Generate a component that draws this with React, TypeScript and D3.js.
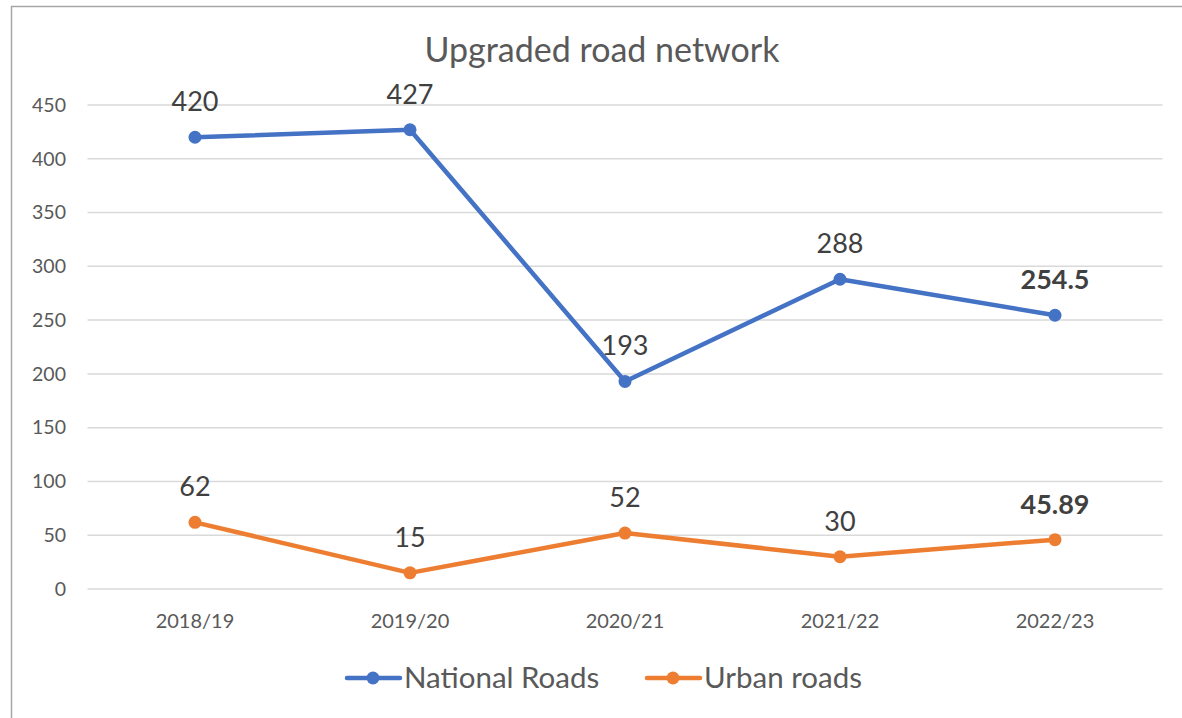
import React, { useEffect, useRef } from 'react';
import * as d3 from 'd3';

const years = ['2018/19', '2019/20', '2020/21', '2021/22', '2022/23'];
const nationalRoads = [420, 427, 193, 288, 254.5];
const urbanRoads = [62, 15, 52, 30, 45.89];
const yTicks = [0, 50, 100, 150, 200, 250, 300, 350, 400, 450];

const W = 1182;
const H = 718;
const FONT = 'Lato, "Open Sans", sans-serif';

const App = () => {
  const svgRef = useRef<SVGSVGElement>(null);

  useEffect(() => {
    const svg = d3.select(svgRef.current);
    svg.selectAll('*').remove();

    const margin = { left: 87.5, right: 1162.5, top: 105, bottom: 589 };

    const x = d3.scaleBand<string>().domain(years).range([margin.left, margin.right]);
    const y = d3.scaleLinear().domain([0, 450]).range([margin.bottom, margin.top]);
    const cx = (d: string) => (x(d) as number) + x.bandwidth() / 2;

    // frame
    svg.append('path')
      .attr('d', `M11.5,${H} V6.5 H${W}`)
      .attr('fill', 'none')
      .attr('stroke', '#a6a6a6')
      .attr('stroke-width', 1.5);

    // title
    svg.append('text')
      .attr('x', 602).attr('y', 62)
      .attr('text-anchor', 'middle')
      .attr('font-family', FONT)
      .attr('font-size', 34)
      .attr('fill', '#595959')
      .text('Upgraded road network');

    // gridlines
    svg.append('g').selectAll('line')
      .data(yTicks)
      .join('line')
      .attr('x1', margin.left).attr('x2', margin.right)
      .attr('y1', d => y(d)).attr('y2', d => y(d))
      .attr('stroke', '#d9d9d9')
      .attr('stroke-width', 1.5);

    // y axis labels
    svg.append('g').selectAll('text')
      .data(yTicks)
      .join('text')
      .attr('x', 66).attr('y', d => y(d))
      .attr('dy', '0.35em')
      .attr('text-anchor', 'end')
      .attr('font-family', FONT)
      .attr('font-size', 19.5)
      .attr('fill', '#595959')
      .text(d => d);

    // x axis labels
    svg.append('g').selectAll('text')
      .data(years)
      .join('text')
      .attr('x', d => cx(d)).attr('y', 628)
      .attr('text-anchor', 'middle')
      .attr('font-family', FONT)
      .attr('font-size', 20)
      .attr('fill', '#595959')
      .text(d => d);

    const series = [
      { name: 'National Roads', values: nationalRoads, color: '#4472C4' },
      { name: 'Urban roads', values: urbanRoads, color: '#ED7D31' },
    ];

    const line = d3.line<number>()
      .x((_, i) => cx(years[i]))
      .y(d => y(d));

    series.forEach(s => {
      svg.append('path')
        .datum(s.values)
        .attr('d', line)
        .attr('fill', 'none')
        .attr('stroke', s.color)
        .attr('stroke-width', 4.5)
        .attr('stroke-linejoin', 'round')
        .attr('stroke-linecap', 'round');

      svg.append('g').selectAll('circle')
        .data(s.values)
        .join('circle')
        .attr('cx', (_, i) => cx(years[i]))
        .attr('cy', d => y(d))
        .attr('r', 6.5)
        .attr('fill', s.color);

      // data labels, last one bold
      svg.append('g').selectAll('text')
        .data(s.values)
        .join('text')
        .attr('x', (_, i) => cx(years[i]))
        .attr('y', d => y(d) - 26)
        .attr('text-anchor', 'middle')
        .attr('font-family', FONT)
        .attr('font-size', 27)
        .attr('font-weight', (_, i) => (i === s.values.length - 1 ? 'bold' : 'normal'))
        .attr('fill', '#404040')
        .text(d => d);
    });

    // legend
    const legend = [
      { ...series[0], x: 345 },
      { ...series[1], x: 645 },
    ];
    legend.forEach(l => {
      const g = svg.append('g').attr('transform', `translate(${l.x},678)`);
      g.append('line')
        .attr('x1', 2).attr('x2', 55)
        .attr('stroke', l.color)
        .attr('stroke-width', 4.5)
        .attr('stroke-linecap', 'round');
      g.append('circle').attr('cx', 28).attr('r', 6.5).attr('fill', l.color);
      g.append('text')
        .attr('x', 59).attr('dy', '0.35em')
        .attr('font-family', FONT)
        .attr('font-size', 29.5)
        .attr('fill', '#595959')
        .text(l.name);
    });
  }, []);

  return (
    <svg
      ref={svgRef}
      width={W}
      height={H}
      style={{ position: 'absolute', left: 0, top: 0, background: '#fff' }}
    />
  );
};

export default App;
